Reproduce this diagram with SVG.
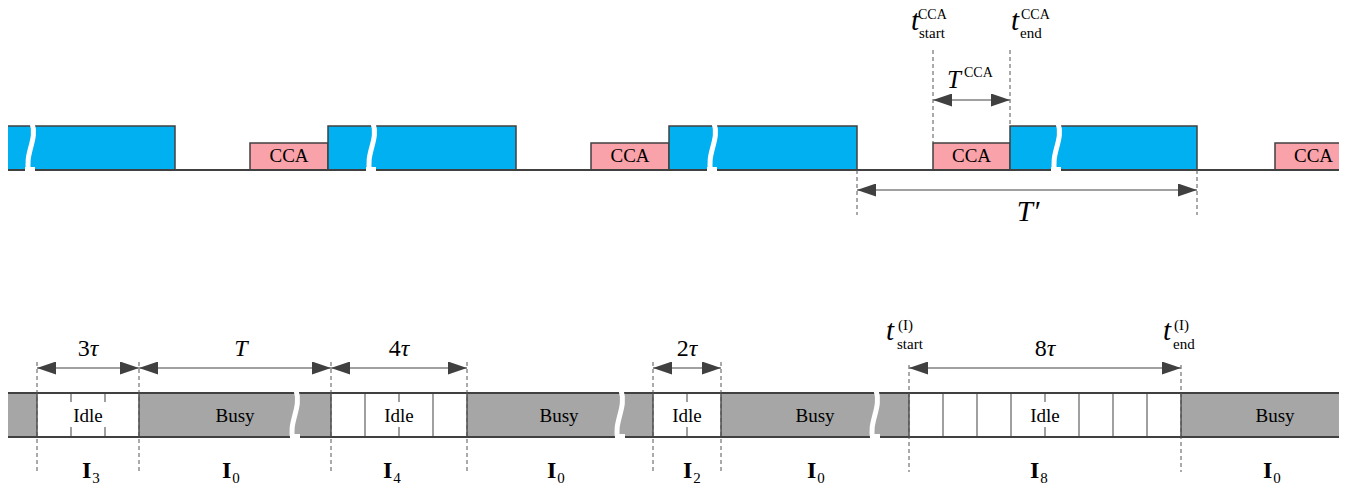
<svg xmlns="http://www.w3.org/2000/svg" width="1353" height="487" viewBox="0 0 1353 487">
  <defs>
    <style>
      .tx{font-family:"Liberation Serif","Times New Roman",serif;fill:#000}
      .it{font-style:italic}
      .bold{font-weight:bold}
      .blue{fill:#00B0F0;stroke:#404040;stroke-width:1.5}
      .cca{fill:#F9A2AA;stroke:#404040;stroke-width:1.5}
      .busy{fill:#A6A6A6}
      .idle{fill:#FFFFFF}
      .edge{stroke:#404040;stroke-width:2;fill:none}
      .bound{stroke:#505050;stroke-width:1.5}
      .cell{stroke:#606060;stroke-width:1.2}
      .dash{stroke:#555555;stroke-width:1;stroke-dasharray:4 3;fill:none}
      .dim{stroke:#808080;stroke-width:1.6;fill:none;marker-start:url(#ah);marker-end:url(#ah)}
      .brk{fill:none;stroke:#FFFFFF;stroke-width:5}
      .gap{fill:#FFFFFF}
    </style>
    <marker id="ah" markerUnits="userSpaceOnUse" markerWidth="19" markerHeight="13" refX="19" refY="6.5" orient="auto-start-reverse">
      <path d="M0,0 L19,6.5 L0,13 z" fill="#404040"/>
    </marker>
    <clipPath id="band">
      <rect x="8" y="0" width="1331" height="487"/>
    </clipPath>
  </defs>

  <!-- channel occupancy timeline -->
  <g id="top-timeline" clip-path="url(#band)">
    <g id="tx-1"><rect class="blue" x="0" y="126" width="175" height="44"/></g>
    <g id="cca-1"><rect class="cca" x="250" y="143" width="78" height="27"/><text class="tx" x="289" y="162" font-size="19" text-anchor="middle">CCA</text></g>
    <g id="tx-2"><rect class="blue" x="328" y="126" width="188" height="44"/></g>
    <g id="cca-2"><rect class="cca" x="591" y="143" width="78" height="27"/><text class="tx" x="630" y="162" font-size="19" text-anchor="middle">CCA</text></g>
    <g id="tx-3"><rect class="blue" x="669" y="126" width="188" height="44"/></g>
    <g id="cca-3"><rect class="cca" x="933" y="143" width="77" height="27"/><text class="tx" x="971.5" y="162" font-size="19" text-anchor="middle">CCA</text></g>
    <g id="tx-4"><rect class="blue" x="1010" y="126" width="187" height="44"/></g>
    <g id="cca-4"><rect class="cca" x="1275" y="143" width="77" height="27"/><text class="tx" x="1313.5" y="162" font-size="19" text-anchor="middle">CCA</text></g>
    <line class="edge" x1="0" y1="170" x2="1353" y2="170"/>
    <!-- time breaks -->
    <g id="top-breaks">
      <rect class="gap" x="25" y="167" width="10" height="6"/>
      <path class="brk" d="M32,123 C38,140 24,153 29,173"/>
      <rect class="gap" x="366" y="167" width="10" height="6"/>
      <path class="brk" d="M373,123 C379,140 365,153 370,173"/>
      <rect class="gap" x="707" y="167" width="10" height="6"/>
      <path class="brk" d="M714,123 C720,140 706,153 711,173"/>
      <rect class="gap" x="1051" y="167" width="10" height="6"/>
      <path class="brk" d="M1058,123 C1064,140 1050,153 1055,173"/>
    </g>
  </g>

  <!-- sensing slots -->
  <g id="bottom-timeline" clip-path="url(#band)">
    <rect class="busy" x="0" y="393" width="1353" height="44"/>
    <g id="idle-3">
      <rect class="idle" x="37" y="393" width="102" height="44"/>
      <line class="cell" x1="71" y1="393" x2="71" y2="437"/>
      <line class="cell" x1="105" y1="393" x2="105" y2="437"/>
      <rect class="idle" x="69" y="402" width="38" height="25"/>
      <text class="tx" x="88" y="422" font-size="19" text-anchor="middle">Idle</text>
    </g>
    <g id="busy-1"><text class="tx" x="235" y="422" font-size="19" text-anchor="middle">Busy</text></g>
    <g id="idle-4">
      <rect class="idle" x="331" y="393" width="136" height="44"/>
      <line class="cell" x1="365" y1="393" x2="365" y2="437"/>
      <line class="cell" x1="399" y1="393" x2="399" y2="437"/>
      <line class="cell" x1="433" y1="393" x2="433" y2="437"/>
      <rect class="idle" x="380" y="402" width="38" height="25"/>
      <text class="tx" x="399" y="422" font-size="19" text-anchor="middle">Idle</text>
    </g>
    <g id="busy-2"><text class="tx" x="559" y="422" font-size="19" text-anchor="middle">Busy</text></g>
    <g id="idle-2">
      <rect class="idle" x="653" y="393" width="68" height="44"/>
      <line class="cell" x1="687" y1="393" x2="687" y2="437"/>
      <rect class="idle" x="668" y="402" width="38" height="25"/>
      <text class="tx" x="687" y="422" font-size="19" text-anchor="middle">Idle</text>
    </g>
    <g id="busy-3"><text class="tx" x="815" y="422" font-size="19" text-anchor="middle">Busy</text></g>
    <g id="idle-8">
      <rect class="idle" x="909" y="393" width="272" height="44"/>
      <line class="cell" x1="943" y1="393" x2="943" y2="437"/>
      <line class="cell" x1="977" y1="393" x2="977" y2="437"/>
      <line class="cell" x1="1011" y1="393" x2="1011" y2="437"/>
      <line class="cell" x1="1045" y1="393" x2="1045" y2="437"/>
      <line class="cell" x1="1079" y1="393" x2="1079" y2="437"/>
      <line class="cell" x1="1113" y1="393" x2="1113" y2="437"/>
      <line class="cell" x1="1147" y1="393" x2="1147" y2="437"/>
      <rect class="idle" x="1026" y="402" width="38" height="25"/>
      <text class="tx" x="1045" y="422" font-size="19" text-anchor="middle">Idle</text>
    </g>
    <g id="busy-4"><text class="tx" x="1275" y="422" font-size="19" text-anchor="middle">Busy</text></g>
    <g id="slot-bounds">
      <line class="bound" x1="37" y1="393" x2="37" y2="437"/>
      <line class="bound" x1="139" y1="393" x2="139" y2="437"/>
      <line class="bound" x1="331" y1="393" x2="331" y2="437"/>
      <line class="bound" x1="467" y1="393" x2="467" y2="437"/>
      <line class="bound" x1="653" y1="393" x2="653" y2="437"/>
      <line class="bound" x1="721" y1="393" x2="721" y2="437"/>
      <line class="bound" x1="909" y1="393" x2="909" y2="437"/>
      <line class="bound" x1="1181" y1="393" x2="1181" y2="437"/>
    </g>
    <line class="edge" x1="0" y1="393" x2="1353" y2="393"/>
    <line class="edge" x1="0" y1="437" x2="1353" y2="437"/>
    <g id="bottom-breaks">
      <rect class="gap" x="290" y="434" width="10" height="6"/>
      <path class="brk" d="M296,390 C302,408 288,422 293,440"/>
      <rect class="gap" x="615" y="434" width="10" height="6"/>
      <path class="brk" d="M621,390 C627,408 613,422 618,440"/>
      <rect class="gap" x="870" y="434" width="10" height="6"/>
      <path class="brk" d="M876,390 C882,408 868,422 873,440"/>
    </g>
  </g>

  <!-- guides and dimension arrows -->
  <g id="connectors">
    <line class="dash" x1="857" y1="170" x2="857" y2="215"/>
    <line class="dash" x1="1197" y1="170" x2="1197" y2="215"/>
    <line class="dash" x1="933" y1="50" x2="933" y2="143"/>
    <line class="dash" x1="1010" y1="50" x2="1010" y2="126"/>
    <line class="dim" x1="857" y1="190" x2="1197" y2="190"/>
    <line class="dim" x1="933" y1="100" x2="1010" y2="100"/>

    <line class="dash" x1="37" y1="362" x2="37" y2="472"/>
    <line class="dash" x1="139" y1="362" x2="139" y2="472"/>
    <line class="dash" x1="331" y1="362" x2="331" y2="472"/>
    <line class="dash" x1="467" y1="362" x2="467" y2="472"/>
    <line class="dash" x1="653" y1="362" x2="653" y2="472"/>
    <line class="dash" x1="721" y1="362" x2="721" y2="472"/>
    <line class="dash" x1="909" y1="365" x2="909" y2="472"/>
    <line class="dash" x1="1181" y1="365" x2="1181" y2="472"/>
    <line class="dim" x1="37" y1="368" x2="139" y2="368"/>
    <line class="dim" x1="139" y1="368" x2="331" y2="368"/>
    <line class="dim" x1="331" y1="368" x2="467" y2="368"/>
    <line class="dim" x1="653" y1="368" x2="721" y2="368"/>
    <line class="dim" x1="909" y1="368" x2="1181" y2="368"/>
  </g>

  <!-- annotations -->
  <g id="labels">
    <text class="tx it" x="911" y="30" font-size="29">t</text>
    <text class="tx" x="918" y="19" font-size="14">CCA</text>
    <text class="tx" x="919" y="38" font-size="15">start</text>
    <text class="tx it" x="1011" y="30" font-size="29">t</text>
    <text class="tx" x="1021" y="19" font-size="14">CCA</text>
    <text class="tx" x="1020" y="38" font-size="15">end</text>
    <text class="tx it" x="947" y="88" font-size="25">T</text>
    <text class="tx" x="964" y="77" font-size="14">CCA</text>
    <text class="tx it" x="1028" y="221" font-size="29" text-anchor="middle">T′</text>

    <text class="tx" x="88" y="356" font-size="24" text-anchor="middle">3<tspan class="it">τ</tspan></text>
    <text class="tx it" x="241" y="356" font-size="24" text-anchor="middle">T</text>
    <text class="tx" x="399" y="356" font-size="24" text-anchor="middle">4<tspan class="it">τ</tspan></text>
    <text class="tx" x="687" y="356" font-size="24" text-anchor="middle">2<tspan class="it">τ</tspan></text>
    <text class="tx" x="1045" y="356" font-size="24" text-anchor="middle">8<tspan class="it">τ</tspan></text>

    <text class="tx it" x="886" y="340" font-size="29">t</text>
    <text class="tx" x="898" y="330" font-size="15">(I)</text>
    <text class="tx" x="897" y="349" font-size="15">start</text>
    <text class="tx it" x="1163" y="340" font-size="29">t</text>
    <text class="tx" x="1174" y="330" font-size="15">(I)</text>
    <text class="tx" x="1173" y="349" font-size="15">end</text>

    <text class="tx bold" x="82" y="478" font-size="24">I<tspan font-weight="normal" font-size="15" dx="1" dy="5">3</tspan></text>
    <text class="tx bold" x="222" y="478" font-size="24">I<tspan font-weight="normal" font-size="15" dx="1" dy="5">0</tspan></text>
    <text class="tx bold" x="383" y="478" font-size="24">I<tspan font-weight="normal" font-size="15" dx="1" dy="5">4</tspan></text>
    <text class="tx bold" x="547" y="478" font-size="24">I<tspan font-weight="normal" font-size="15" dx="1" dy="5">0</tspan></text>
    <text class="tx bold" x="683" y="478" font-size="24">I<tspan font-weight="normal" font-size="15" dx="1" dy="5">2</tspan></text>
    <text class="tx bold" x="807" y="478" font-size="24">I<tspan font-weight="normal" font-size="15" dx="1" dy="5">0</tspan></text>
    <text class="tx bold" x="1030" y="478" font-size="24">I<tspan font-weight="normal" font-size="15" dx="1" dy="5">8</tspan></text>
    <text class="tx bold" x="1263" y="478" font-size="24">I<tspan font-weight="normal" font-size="15" dx="1" dy="5">0</tspan></text>
  </g>
</svg>
